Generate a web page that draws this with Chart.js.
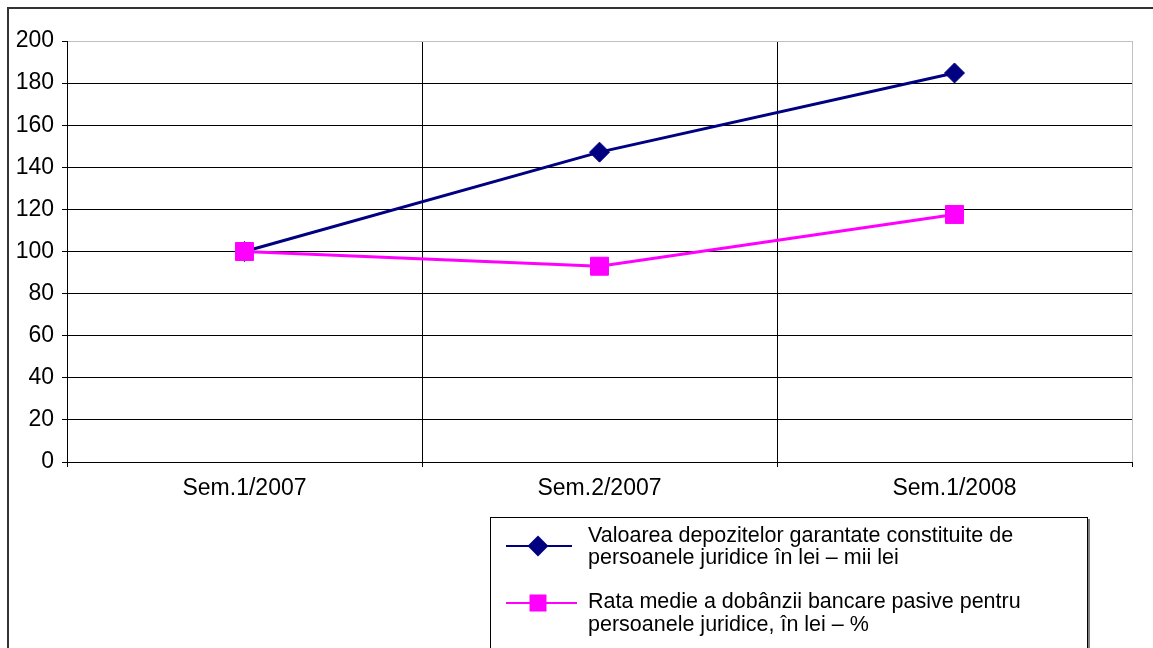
<!DOCTYPE html>
<html>
<head>
<meta charset="utf-8">
<script src="https://cdn.jsdelivr.net/npm/chart.js@4.4.0/dist/chart.umd.min.js"></script>
<style>
html, body { margin: 0; padding: 0; background: #fff; }
</style>
</head>
<body>
<canvas id="chart" width="1153" height="648"></canvas>
<script>
var labels = ['Sem.1/2007', 'Sem.2/2007', 'Sem.1/2008'];
var depozite = [100, 147.2, 184.8];
var dobanda = [100, 93, 117.6];
var seriesNames = [
    ['Valoarea depozitelor garantate constituite de', 'persoanele juridice în lei – mii lei'],
    ['Rata medie a dobânzii bancare pasive pentru', 'persoanele juridice, în lei – %']
];
var yMin = 0, yMax = 200, yStep = 20;

var FONT = "'Liberation Sans', Arial, sans-serif";

// frame round the whole picture (top + left only, rest is cut off)
var frame = {
    id: 'frame',
    beforeDraw: function (chart) {
        var c = chart.ctx;
        c.save();
        c.strokeStyle = '#333';
        c.lineWidth = 2;
        c.beginPath();
        c.moveTo(8, 648);
        c.lineTo(8, 8);
        c.lineTo(1153, 8);
        c.stroke();
        c.restore();
    }
};

// boxed legend, two lines of text per series
var legendBox = {
    id: 'legendBox',
    afterDraw: function (chart) {
        var c = chart.ctx;
        c.save();
        c.fillStyle = '#808080';
        c.fillRect(1088, 519, 2, 130);
        c.strokeStyle = '#000';
        c.lineWidth = 1;
        c.strokeRect(490.5, 517.5, 597, 140);

        var rows = [
            { sym: 546, lines: [536, 558], x2: 572 },
            { sym: 603, lines: [602, 625], x2: 577 }
        ];
        chart.data.datasets.forEach(function (ds, i) {
            var r = rows[i];
            c.strokeStyle = ds.borderColor;
            c.lineWidth = 2;
            c.beginPath();
            c.moveTo(506, r.sym);
            c.lineTo(r.x2, r.sym);
            c.stroke();
            c.fillStyle = ds.pointBackgroundColor;
            c.strokeStyle = ds.pointBorderColor;
            Chart.helpers.drawPoint(c, {
                pointStyle: ds.pointStyle,
                radius: ds.pointStyle === 'rect' ? 10.6 : 9,
                rotation: 0,
                borderWidth: 1
            }, 538, r.sym);

            c.fillStyle = '#000';
            c.font = '21.5px ' + FONT;
            c.textBaseline = 'middle';
            c.textAlign = 'left';
            seriesNames[i].forEach(function (t, k) {
                c.fillText(t, 588, r.lines[k]);
            });
        });
        c.restore();
    }
};

new Chart(document.getElementById('chart').getContext('2d'), {
    type: 'line',
    data: {
        labels: labels,
        datasets: [{
            label: seriesNames[0].join(' '),
            data: depozite,
            borderColor: '#000080',
            borderWidth: 3,
            pointStyle: 'rectRot',
            pointRadius: 10,
            pointHoverRadius: 10,
            pointBackgroundColor: '#000080',
            pointBorderColor: '#000080',
            pointBorderWidth: 1,
            order: 1
        }, {
            label: seriesNames[1].join(' '),
            data: dobanda,
            borderColor: '#FF00FF',
            borderWidth: 3,
            pointStyle: 'rect',
            pointRadius: 12.7,
            pointHoverRadius: 12.7,
            pointBackgroundColor: '#FF00FF',
            pointBorderColor: '#FF00FF',
            pointBorderWidth: 1,
            order: 0
        }]
    },
    options: {
        responsive: false,
        animation: false,
        events: [],
        layout: {
            padding: { top: 41, right: 21, left: 0, bottom: 0 }
        },
        plugins: {
            legend: { display: false },
            tooltip: { enabled: false }
        },
        scales: {
            x: {
                offset: true,
                grid: {
                    offset: true,
                    color: function (c) { return c.type === 'tick' ? '#000' : '#c0c0c0'; },
                    tickColor: '#000',
                    tickLength: 5,
                    lineWidth: 1
                },
                border: { color: '#000', width: 1 },
                ticks: {
                    color: '#000',
                    padding: 8,
                    maxRotation: 0,
                    font: { family: FONT, size: 23 }
                },
                afterFit: function (s) { s.height = 186; }
            },
            y: {
                min: yMin,
                max: yMax,
                grid: {
                    color: function (c) { return c.tick && c.tick.value === yMax ? '#c0c0c0' : '#000'; },
                    tickColor: '#000',
                    tickLength: 5,
                    lineWidth: 1
                },
                border: { color: '#000', width: 1 },
                ticks: {
                    stepSize: yStep,
                    color: '#000',
                    padding: 8,
                    font: { family: FONT, size: 23 }
                },
                afterFit: function (s) { s.width = 67; }
            }
        }
    },
    plugins: [frame, legendBox]
});
</script>
</body>
</html>
